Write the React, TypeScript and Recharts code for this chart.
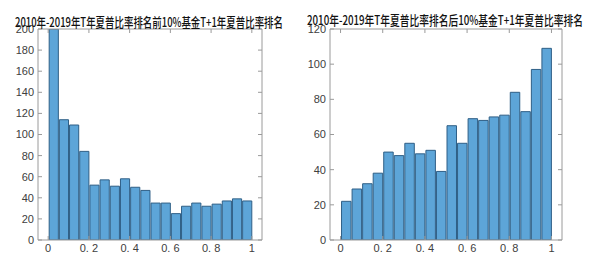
import { BarChart, Bar, XAxis, YAxis } from "recharts";

// bin centres, 20 bins of width 0.05 on [0, 1]
const binCenters = [
  0.025, 0.075, 0.125, 0.175, 0.225, 0.275, 0.325, 0.375, 0.425, 0.475,
  0.525, 0.575, 0.625, 0.675, 0.725, 0.775, 0.825, 0.875, 0.925, 0.975,
];
const topCounts = [200, 114, 109, 84, 52, 57, 51, 58, 50, 47, 35, 35, 25, 32, 35, 32, 34, 37, 39, 37];
const bottomCounts = [22, 29, 32, 38, 50, 48, 55, 49, 51, 39, 65, 55, 69, 68, 70, 71, 84, 73, 97, 109];

const xTicks = [0, 0.2, 0.4, 0.6, 0.8, 1];
const leftYTicks = [0, 20, 40, 60, 80, 100, 120, 140, 160, 180, 200];
const rightYTicks = [0, 20, 40, 60, 80, 100, 120];

const leftTitle = "2010年-2019年T年夏普比率排名前10%基金T+1年夏普比率排名";
const rightTitle = "2010年-2019年T年夏普比率排名后10%基金T+1年夏普比率排名";

const FILL = "#5DA5D8";
const EDGE = "#2F5F86";
const AXIS = "#9a9a9a";
const TEXT = "#404040";
const tickFont = { fontSize: 11, fill: TEXT };

const fmtX = (v: number) => (v === 0 || v === 1 ? String(v) : v.toFixed(1).replace(".", ". "));

type HistProps = {
  counts: number[];
  yMax: number;
  yTicks: number[];
  yWidth: number;
  marginLeft: number;
};

const Hist = ({ counts, yMax, yTicks, yWidth, marginLeft }: HistProps) => {
  const data = binCenters.map((x, i) => ({ x, count: counts[i] }));
  const plotW = 300 - marginLeft - yWidth - 38;
  const barSize = (plotW * 0.05) / 1.1;
  return (
    <BarChart
      width={300}
      height={275}
      data={data}
      margin={{ top: 28, right: 37, bottom: 15, left: marginLeft }}
      barCategoryGap={0}
      barGap={0}
      style={{ fontFamily: "'Liberation Sans', Arial, sans-serif" }}
    >
      <XAxis
        dataKey="x"
        type="number"
        domain={[-0.05, 1.05]}
        ticks={xTicks}
        tickFormatter={fmtX}
        tickSize={-4}
        tickMargin={8}
        height={20}
        stroke={AXIS}
        tick={tickFont}
        allowDataOverflow
      />
      <XAxis
        xAxisId="top"
        dataKey="x"
        orientation="top"
        type="number"
        domain={[-0.05, 1.05]}
        ticks={xTicks}
        tickFormatter={() => ""}
        tickSize={-4}
        height={1}
        stroke={AXIS}
        allowDataOverflow
      />
      <YAxis
        type="number"
        domain={[0, yMax]}
        ticks={yTicks}
        tickSize={-4}
        tickMargin={8}
        width={yWidth}
        stroke={AXIS}
        tick={tickFont}
        interval={0}
        allowDataOverflow
      />
      <YAxis
        yAxisId="right"
        orientation="right"
        type="number"
        domain={[0, yMax]}
        ticks={yTicks}
        tickFormatter={() => ""}
        tickSize={-4}
        width={1}
        stroke={AXIS}
        interval={0}
        allowDataOverflow
      />
      <Bar dataKey="count" fill={FILL} stroke={EDGE} strokeWidth={1} barSize={barSize} isAnimationActive={false} />
      <Bar
        xAxisId="top"
        yAxisId="right"
        dataKey="count"
        fill="none"
        stroke="none"
        barSize={barSize}
        isAnimationActive={false}
      />
    </BarChart>
  );
};

const App = () => {
  return (
    <div style={{ position: "absolute", left: 0, top: 0, width: 600, height: 275, background: "#fff" }}>
      <div style={{ position: "absolute", left: 0, top: 0 }}>
        <Hist counts={topCounts} yMax={200} yTicks={leftYTicks} yWidth={30} marginLeft={8} />
      </div>
      <div style={{ position: "absolute", left: 300, top: 0 }}>
        <Hist counts={bottomCounts} yMax={120} yTicks={rightYTicks} yWidth={24} marginLeft={6} />
      </div>
      <svg width={600} height={40} style={{ position: "absolute", left: 0, top: 0 }}>
        <g fontFamily="'Noto Sans CJK SC', sans-serif" fontSize={13} fill="#111" fontWeight={500}>
          <text x={15} y={27} textLength={268} lengthAdjust="spacingAndGlyphs">
            {leftTitle}
          </text>
          <text x={307} y={25} textLength={276} lengthAdjust="spacingAndGlyphs">
            {rightTitle}
          </text>
        </g>
      </svg>
    </div>
  );
};

export default App;
